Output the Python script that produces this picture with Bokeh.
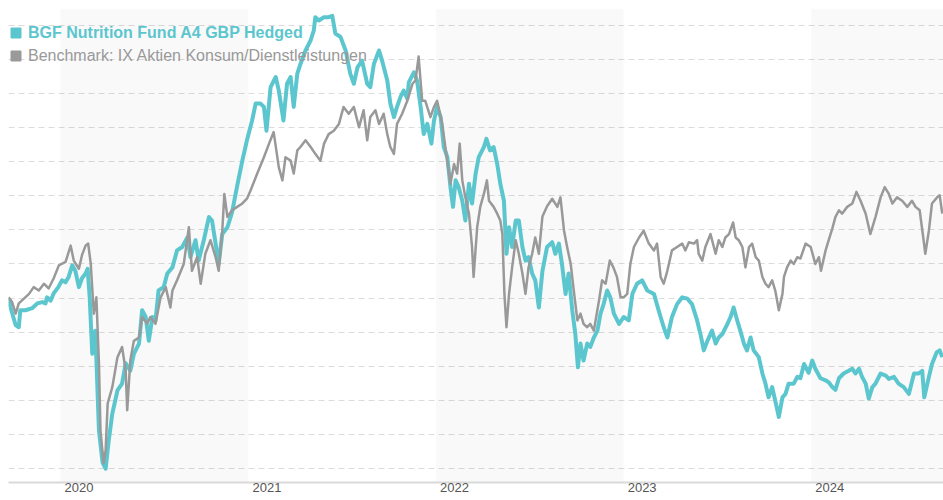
import math
import pandas as pd
from bokeh.plotting import figure
from bokeh.models import Range1d, FixedTicker, BoxAnnotation, Legend, LegendItem
from bokeh.embed import file_html
from bokeh.resources import INLINE

# ---- data (cumulative performance in %, x = days since START) ----
START = pd.Timestamp("2019-09-22")

fund_name = "BGF Nutrition Fund A4 GBP Hedged"
bench_name = "Benchmark: IX Aktien Konsum/Dienstleistungen"

fund_days = [0, 4, 14, 20, 23, 33, 46, 56, 66, 72, 75, 82, 88, 97, 104, 111, 117, 124, 130, 137,
             143, 150, 154, 158, 163, 169, 176, 183, 189, 195, 202, 212, 221, 228, 237, 244, 254, 260, 267, 273,
             280, 286, 292, 302, 309, 319, 328, 338, 348, 354, 364, 370, 380, 390, 396, 403, 409, 416, 426, 435,
             445, 455, 464, 474, 481, 490, 497, 502, 510, 520, 526, 535, 542, 549, 555, 562, 568, 578, 588, 594,
             597, 604, 614, 623, 630, 636, 646, 656, 665, 672, 679, 688, 698, 704, 711, 721, 727, 737, 743, 750,
             756, 763, 769, 776, 779, 789, 795, 802, 808, 815, 823, 828, 834, 841, 847, 854, 860, 865, 870, 876,
             883, 889, 896, 902, 909, 915, 925, 930, 937, 944, 951, 957, 964, 969, 974, 980, 987, 993, 1000, 1006,
             1012, 1019, 1025, 1032, 1039, 1048, 1058, 1064, 1071, 1077, 1084, 1090, 1097, 1103, 1108, 1113, 1119, 1126, 1132, 1139,
             1146, 1152, 1158, 1165, 1171, 1178, 1188, 1197, 1207, 1214, 1223, 1233, 1243, 1256, 1265, 1275, 1282, 1291, 1301, 1311,
             1321, 1330, 1340, 1347, 1353, 1360, 1369, 1376, 1382, 1389, 1399, 1405, 1411, 1418, 1424, 1431, 1437, 1444, 1450, 1460,
             1467, 1473, 1479, 1486, 1492, 1499, 1506, 1512, 1518, 1528, 1535, 1541, 1548, 1557, 1564, 1570, 1580, 1590, 1596, 1603,
             1609, 1616, 1625, 1635, 1642, 1648, 1655, 1661, 1668, 1674, 1681, 1687, 1697, 1707, 1713, 1723, 1732, 1742, 1752, 1762,
             1771, 1778, 1782, 1791, 1797, 1806, 1812, 1817]

fund_perf = [-0.1, -1.4, -4.0, -4.3, -1.8, -1.8, -1.5, -0.8, -0.6, -0.8,
             0.1, -0.4, 0.7, 1.6, 2.6, 2.3, 3.1, 4.8, 4.0, 1.6,
             2.9, 3.6, 4.3, 0.1, -8.2, -4.8, -19.5, -24.2, -25.1, -21.0,
             -17.0, -13.6, -12.6, -9.6, -10.7, -8.2, -6.7, -1.8, -2.8, -6.3,
             -2.8, -3.3, 1.1, 1.6, 3.6, 4.5, 7.0, 7.5, 8.9, 6.0,
             8.5, 5.5, 8.5, 11.9, 11.4, 8.0, 5.0, 9.4, 10.4, 12.6,
             16.5, 20.2, 23.2, 26.1, 28.6, 28.6, 28.1, 24.6, 31.0, 32.5,
             30.5, 26.1, 31.5, 32.5, 28.1, 33.0, 34.4, 36.4, 37.9, 39.3,
             41.3, 40.8, 41.3, 41.3, 41.5, 38.9, 38.4, 36.4, 33.0, 31.5,
             33.9, 34.9, 31.5, 31.0, 34.4, 36.4, 34.9, 32.0, 28.6, 26.6,
             28.1, 29.6, 30.5, 29.3, 31.7, 33.2, 32.0, 28.1, 24.1, 25.6,
             22.7, 26.1, 28.1, 26.6, 22.2, 20.7, 16.3, 13.4, 17.3, 16.3,
             14.3, 11.4, 16.8, 13.9, 18.3, 20.7, 22.2, 23.4, 21.7, 22.2,
             19.7, 16.8, 14.3, 6.5, 10.4, 7.5, 11.4, 11.4, 7.5, 5.5,
             6.0, 3.6, 2.6, -1.4, 4.0, 7.5, 8.2, 6.5, 8.0, 5.0,
             0.6, 3.6, -1.8, -5.3, -10.2, -6.7, -9.2, -6.7, -7.2, -5.8,
             -4.8, -2.3, -0.9, 1.1, 0.1, -2.3, -3.8, -2.8, -3.3, 0.6,
             2.1, 2.6, 1.1, 0.6, -1.8, -4.3, -5.8, -2.8, -0.9, 0.1,
             -0.1, -0.9, -3.3, -5.5, -7.7, -6.3, -4.8, -6.7, -5.8, -5.3,
             -3.8, -2.8, -1.4, -3.3, -4.8, -6.7, -7.7, -5.8, -7.7, -8.7,
             -11.1, -12.6, -14.6, -13.1, -15.1, -17.5, -14.6, -14.1, -12.6, -12.6,
             -11.6, -11.8, -9.7, -11.0, -9.2, -10.4, -11.8, -12.1, -12.4, -13.1,
             -13.5, -11.8, -11.1, -10.7, -10.4, -11.1, -10.4, -11.6, -12.6, -14.8,
             -13.1, -12.6, -11.1, -11.4, -11.9, -11.6, -12.6, -13.1, -14.1, -11.1,
             -11.1, -10.7, -14.6, -11.6, -9.7, -8.0, -7.7, -8.7]

bench_days = [0, 7, 14, 20, 30, 40, 49, 59, 69, 78, 88, 98, 111, 121, 127, 137, 143, 150, 155, 160,
              166, 171, 176, 179, 185, 189, 193, 202, 212, 221, 228, 231, 237, 244, 254, 260, 270, 276, 286, 296,
              306, 315, 319, 328, 341, 351, 357, 367, 374, 383, 393, 403, 409, 416, 420, 426, 435, 445, 455, 464,
              471, 484, 497, 507, 516, 526, 533, 539, 549, 555, 562, 568, 578, 588, 597, 607, 614, 623, 633, 643,
              652, 662, 672, 682, 691, 698, 704, 714, 721, 730, 737, 743, 750, 756, 766, 776, 786, 792, 798, 805,
              811, 821, 828, 834, 844, 850, 860, 867, 873, 878, 883, 889, 896, 902, 905, 912, 918, 925, 931, 935,
              944, 951, 957, 961, 965, 969, 974, 980, 987, 993, 1000, 1006, 1012, 1019, 1025, 1032, 1039, 1048, 1058, 1068,
              1074, 1081, 1087, 1094, 1100, 1107, 1113, 1119, 1126, 1132, 1139, 1149, 1155, 1162, 1170, 1177, 1184, 1191, 1197, 1204,
              1210, 1217, 1227, 1236, 1246, 1256, 1262, 1269, 1275, 1282, 1291, 1301, 1311, 1317, 1324, 1334, 1340, 1343, 1350, 1356,
              1366, 1376, 1382, 1389, 1395, 1402, 1410, 1415, 1421, 1428, 1434, 1441, 1447, 1454, 1460, 1467, 1473, 1479, 1486, 1492,
              1499, 1506, 1509, 1515, 1522, 1528, 1535, 1541, 1551, 1561, 1570, 1577, 1581, 1590, 1596, 1603, 1609, 1616, 1622, 1632,
              1642, 1650, 1658, 1668, 1677, 1687, 1697, 1705, 1713, 1720, 1729, 1739, 1749, 1758, 1765, 1773, 1780, 1784, 1791, 1797,
              1807, 1812, 1817]

bench_perf = [0.1, -0.6, -2.3, -0.8, -0.1, 0.6, 1.6, 1.1, 2.1, 1.4, 2.9, 4.8, 5.3, 7.7, 5.5, 4.3, 6.3, 7.7, 8.0, 5.1,
              -2.3, 0.1, -9.6, -19.5, -24.3, -22.4, -15.5, -13.1, -8.7, -7.2, -10.7, -16.5, -9.2, -6.3, -5.8, -2.8, -3.8, -2.8, -3.8, 0.1,
              1.6, -1.4, 1.1, 2.6, 5.0, 10.4, 4.0, 6.0, 2.1, 6.5, 8.5, 6.0, 4.0, 9.9, 15.3, 11.9, 12.9, 13.4, 13.9, 14.6,
              15.8, 18.3, 20.7, 22.7, 24.4, 19.2, 17.3, 20.7, 20.2, 18.3, 21.7, 22.2, 23.2, 22.2, 21.2, 20.2, 22.7, 24.1, 24.6, 25.6,
              28.1, 27.1, 28.1, 25.1, 27.6, 23.2, 26.6, 27.6, 25.6, 27.1, 24.1, 22.2, 21.2, 25.6, 27.1, 29.0, 31.5, 32.0, 35.5, 29.0,
              29.0, 26.6, 28.1, 29.0, 25.6, 22.2, 16.8, 19.7, 18.3, 22.7, 17.3, 14.8, 12.4, 7.5, 3.1, 10.4, 13.4, 15.3, 17.3, 14.3,
              13.4, 12.4, 11.4, 9.4, 0.6, -4.3, 0.6, 4.5, 8.5, 6.5, 3.6, 0.6, 4.5, 6.5, 8.9, 6.5, 12.0, 13.5, 14.6, 13.4,
              14.8, 9.9, 7.5, 5.0, 1.1, -3.3, -2.3, -3.8, -4.3, -3.8, -4.8, -0.4, 2.6, 2.1, 5.5, 4.5, 3.1, 0.1, 0.1, 0.6,
              5.0, 7.5, 8.9, 9.9, 8.0, 7.0, 8.0, 3.1, 2.1, 4.0, 7.0, 7.5, 8.0, 7.0, 8.2, 8.0, 8.5, 6.5, 5.5, 7.5,
              9.4, 6.5, 8.5, 7.5, 8.9, 9.4, 11.1, 8.9, 8.5, 7.5, 4.5, 7.5, 8.0, 6.0, 5.5, 3.1, 2.1, 1.6, 2.6, 1.1,
              -1.8, 0.6, 3.1, 4.5, 5.5, 5.0, 6.0, 5.8, 8.0, 7.5, 5.0, 6.0, 4.0, 7.0, 8.5, 10.2, 11.9, 12.9, 12.4, 13.4,
              13.9, 15.6, 14.3, 12.4, 9.4, 11.9, 14.8, 16.3, 15.3, 13.9, 14.8, 14.3, 13.4, 14.3, 13.4, 12.9, 8.9, 6.5, 9.9, 13.9,
              14.8, 15.1, 12.4]

years = [2020, 2021, 2022, 2023, 2024]
shaded_years = [2020, 2022, 2024]
grid_levels = [-25, -20, -15, -10, -5, 0, 5, 10, 15, 20, 25, 30, 35, 40]

assert len(fund_days) == len(fund_perf), (len(fund_days), len(fund_perf))
assert len(bench_days) == len(bench_perf), (len(bench_days), len(bench_perf))

# ---- styling ----
TEAL = "#5cc6ce"
GRAY = "#999999"
FONT = "Liberation Sans"


def day_of(ts):
    return (pd.Timestamp(ts) - START).days


p = figure(frame_width=935, frame_height=474,
           x_range=Range1d(0, 1819.4), y_range=Range1d(-27.13, 42.57),
           output_backend="svg", toolbar_location=None,
           min_border=0, min_border_left=8, min_border_right=0, min_border_top=8,
           outline_line_color=None, background_fill_color="white", border_fill_color="white")

# shaded year bands
for yr in shaded_years:
    p.add_layout(BoxAnnotation(left=day_of(f"{yr}-01-01"), right=day_of(f"{yr + 1}-01-01"),
                               fill_color="#000000", fill_alpha=0.025, line_color=None,
                               level="underlay"))

# axes / grid
p.yaxis.visible = False
p.xgrid.visible = False
p.ygrid.ticker = FixedTicker(ticks=grid_levels)
p.ygrid.grid_line_color = "#dcdcdc"
p.ygrid.grid_line_dash = "6 4"
p.ygrid.grid_line_width = 1

tick_pos = [day_of(f"{yr}-01-01") + 36 for yr in years]
p.xaxis.ticker = FixedTicker(ticks=tick_pos)
p.xaxis.major_label_overrides = {t: str(yr) for t, yr in zip(tick_pos, years)}
p.xaxis.major_tick_line_color = None
p.xaxis.minor_tick_line_color = None
p.xaxis.major_tick_out = 0
p.xaxis.major_tick_in = 0
p.xaxis.minor_tick_out = 0
p.xaxis.axis_line_color = "#d9d9d9"
p.xaxis.axis_line_width = 2
p.xaxis.major_label_standoff = 0
p.xaxis.major_label_text_font = FONT
p.xaxis.major_label_text_font_size = "13px"
p.xaxis.major_label_text_color = "#555555"

# series
p.line(fund_days, fund_perf, line_color=TEAL, line_width=4, line_join="round")
p.line(bench_days, bench_perf, line_color=GRAY, line_width=2.5, line_join="round")

# legend markers (squares)
sq_fund = p.scatter([math.nan], [math.nan], marker="square", size=10, color=TEAL)
sq_bench = p.scatter([math.nan], [math.nan], marker="square", size=10, color=GRAY)


def make_legend(label, renderer, color, style, loc):
    lg = Legend(items=[LegendItem(label=label, renderers=[renderer])], location=loc,
                glyph_width=25, glyph_height=25, label_standoff=0, padding=0, margin=0,
                spacing=0, border_line_color=None, background_fill_alpha=0,
                label_text_font=FONT, label_text_font_size="16px",
                label_text_font_style=style, label_text_color=color, label_height=25)
    lg.level = "underlay"
    return lg


p.add_layout(make_legend(fund_name, sq_fund, TEAL, "bold", (-5, 437)))
p.add_layout(make_legend(bench_name, sq_bench, "#999999", "normal", (-5, 414)))

open("out.html", "w").write(file_html(p, INLINE))
